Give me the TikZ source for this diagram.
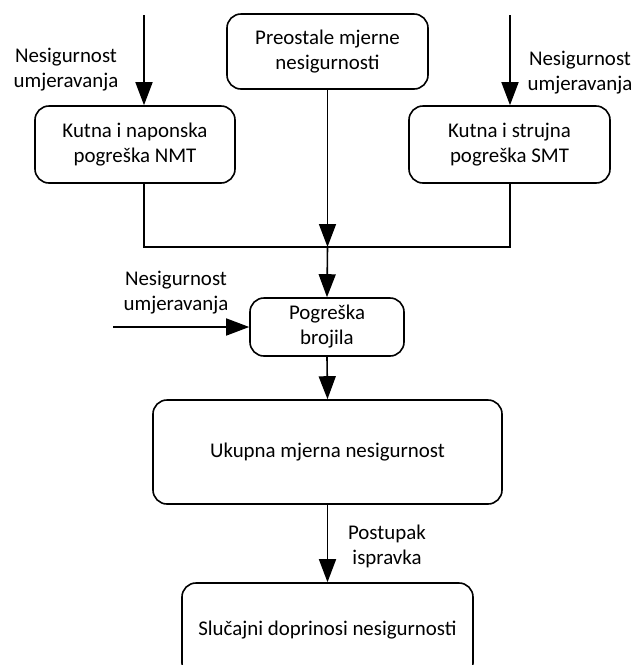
\documentclass[tikz,border=0pt]{standalone}
\usepackage{fontspec}
\setmainfont{Carlito}
\usetikzlibrary{arrows.meta,calc}
\begin{document}
\begin{tikzpicture}[x=1pt,y=-1pt,
  every node/.style={font=\fontsize{20.9}{25}\selectfont},
  box/.style={draw,line width=1.6pt,rounded corners=14pt,align=center,inner sep=0pt},
  lbl/.style={align=center,inner sep=0pt},
  line/.style={line width=1.6pt},
  arr/.style={line width=1.6pt,-{Triangle[length=23pt,width=17pt]}}]
\useasboundingbox (0,0) rectangle (637,665);
\begin{scope}
\clip (0,0) rectangle (637,665);
\node[box,minimum width=200pt,minimum height=77pt] (nmt) at (135,144.5) {Kutna i naponska\\pogreška NMT};
\node[box,minimum width=201pt,minimum height=75pt] (ost) at (327.5,51.5) {Preostale mjerne\\nesigurnosti};
\node[box,minimum width=201pt,minimum height=77pt] (smt) at (509.5,144.5) {Kutna i strujna\\pogreška SMT};
\node[box,minimum width=154pt,minimum height=58pt] (brj) at (327,327) {Pogreška\\brojila};
\node[box,minimum width=349pt,minimum height=104pt] (uk) at (327.5,452) {Ukupna mjerna nesigurnost};
\node[box,minimum width=291pt,minimum height=94pt] (sl) at (327.5,630) {Slučajni doprinosi nesigurnosti};
\coordinate (lin) at (144,15);
\coordinate (rin) at (510,15);
\coordinate (j) at (327.5,247);
\coordinate (bin) at (113,327);
\node[lbl] (l1) at (66,70) {Nesigurnost\\umjeravanja};
\node[lbl] (l2) at (580,73) {Nesigurnost\\umjeravanja};
\node[lbl] (l3) at (176,292.5) {Nesigurnost\\umjeravanja};
\node[lbl] (l4) at (387,546) {Postupak\\ispravka};
\draw[arr] (lin) -- (lin |- nmt.north);
\draw[arr] (rin) -- (rin |- smt.north);
\draw[line] (lin |- nmt.south) -- (lin |- j) -- (rin |- j) -- (rin |- smt.south);
\draw[arr] (ost.south) -- (j);
\draw[arr] (j) -- (brj.north);
\draw[arr] (bin) -- (brj.west);
\draw[arr] (brj.south) -- (uk.north);
\draw[arr] (uk.south) -- (sl.north);
\end{scope}
\end{tikzpicture}
\end{document}
